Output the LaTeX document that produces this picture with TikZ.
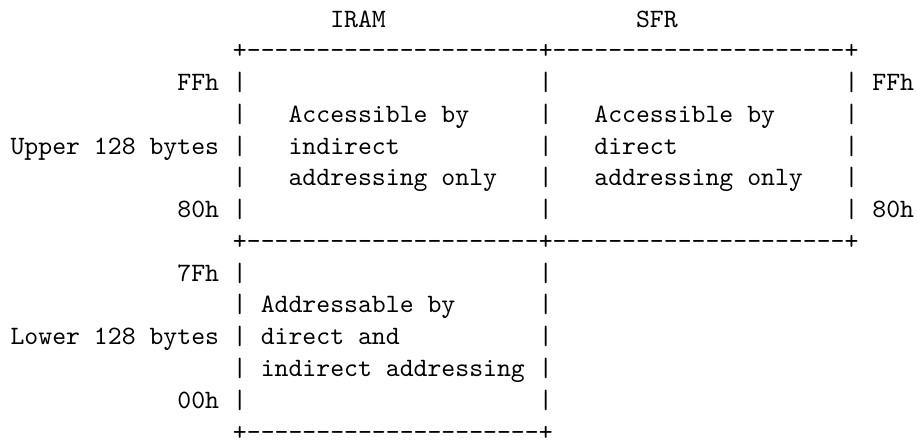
\documentclass[tikz,border=0pt]{standalone}
\usepackage{amsmath,amssymb}
\usetikzlibrary{positioning}

\begin{document}
\begin{tikzpicture}[x=5.25pt, y=-12pt]
      % fixed frame, one unit = one character cell
      % (a stacked node sits on the baseline of its last line)
      \useasboundingbox (-0.76,-0.85) rectangle (65.21,13);
      \tikzstyle{chars} = [anchor=base west, inner sep=0pt, outer sep=0pt, font=\ttfamily]
      \tikzstyle{stack} = [chars, align=left]
        % headings
        \node [chars] (iram) at (23,0) {IRAM};
        \node [chars] (sfr) at (45,0) {SFR};
        % upper half: IRAM and SFR side by side
        \node [chars] (topedge) at (16,1) {+---------------------+---------------------+};
        \node [stack] (barA) at (16,6) {|\\|\\|\\|\\|};
        \node [stack] (barB) at (38,6) {|\\|\\|\\|\\|};
        \node [stack] (barC) at (60,6) {|\\|\\|\\|\\|};
        \node [chars] (hexFFl) at (12,2) {FFh};
        \node [chars] (hexFFr) at (62,2) {FFh};
        \node [chars] (upper) at (0,4) {Upper 128 bytes};
        \node [chars] (hex80l) at (12,6) {80h};
        \node [chars] (hex80r) at (62,6) {80h};
        \node [stack] (indirect) at (20,5) {Accessible by\\indirect\\addressing only};
        \node [stack] (direct) at (42,5) {Accessible by\\direct\\addressing only};
        \node [chars] (midedge) at (16,7) {+---------------------+---------------------+};
        % lower half: IRAM only
        \node [stack] (barD) at (16,12) {|\\|\\|\\|\\|};
        \node [stack] (barE) at (38,12) {|\\|\\|\\|\\|};
        \node [chars] (hex7F) at (12,8) {7Fh};
        \node [chars] (lower) at (0,10) {Lower 128 bytes};
        \node [chars] (hex00) at (12,12) {00h};
        \node [stack] (both) at (18,11) {Addressable by\\direct and\\indirect addressing};
        \node [chars] (botedge) at (16,13) {+---------------------+};
\end{tikzpicture}
\end{document}
